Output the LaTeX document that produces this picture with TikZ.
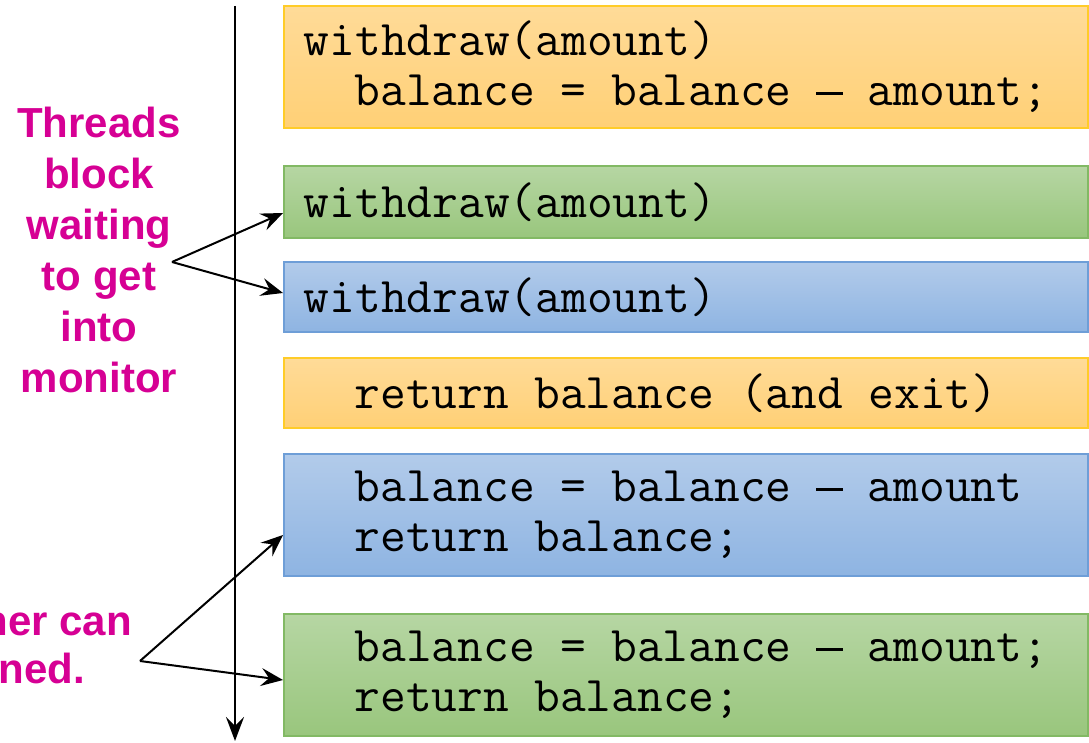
\documentclass[tikz,border=0pt]{standalone}
\usepackage{fontspec}
\setmainfont{Liberation Sans}
\usetikzlibrary{arrows.meta}
\definecolor{mag}{RGB}{214,0,148}
\definecolor{otop}{RGB}{255,219,152}
\definecolor{obot}{RGB}{255,208,118}
\definecolor{odraw}{RGB}{255,204,40}
\definecolor{gtop}{RGB}{182,214,163}
\definecolor{gbot}{RGB}{153,198,125}
\definecolor{gdraw}{RGB}{130,185,100}
\definecolor{btop}{RGB}{178,203,234}
\definecolor{bbot}{RGB}{142,180,226}
\definecolor{bdraw}{RGB}{110,158,215}
\newcommand\ssp{\hspace*{25.4pt}}
\newcommand\mydash{\makebox[25.4pt]{\rule[11pt]{27pt}{2.6pt}}}
\newcommand\codefont{\ttfamily\fontsize{50}{50}\selectfont}
\tikzset{
  codebox/.style={draw, line width=1.5pt, rectangle, anchor=west, inner xsep=20pt, inner ysep=0pt,
    text width=764pt, align=left, font=\codefont, shading=axis, shading angle=0},
  obox/.style={codebox, draw=odraw, top color=otop, bottom color=obot},
  gbox/.style={codebox, draw=gdraw, top color=gtop, bottom color=gbot},
  bbox/.style={codebox, draw=bdraw, top color=btop, bottom color=bbot},
  note/.style={text=mag, font=\bfseries\fontsize{42}{51}\selectfont, inner sep=0pt},
  arr/.style={line width=2pt, -{Stealth[length=22pt,width=18pt,inset=8pt]}},
}
\begin{document}
\begin{tikzpicture}[x=1pt,y=1pt]
\useasboundingbox (0,0) rectangle (1089,742);
\node[obox, minimum height=122pt] (b1) at (283,675) {withdraw(amount)\\\ssp\ssp balance\ssp=\ssp balance\ssp\mydash\ssp amount;};
\node[gbox, minimum height=72pt] (b2) at (283,540) {withdraw(amount)};
\node[bbox, minimum height=70pt] (b3) at (283,445) {withdraw(amount)};
\node[obox, minimum height=70pt] (b4) at (283,349) {\ssp\ssp return\ssp balance\ssp(and\ssp exit)};
\node[bbox, minimum height=122pt] (b5) at (283,227) {\ssp\ssp balance\ssp=\ssp balance\ssp\mydash\ssp amount\\\ssp\ssp return\ssp balance;};
\node[gbox, minimum height=122pt] (b6) at (283,67) {\ssp\ssp balance\ssp=\ssp balance\ssp\mydash\ssp amount;\\\ssp\ssp return\ssp balance;};
\coordinate (ltop) at (235,736);
\coordinate (lbot) at (235,1);
\draw[line width=2.5pt, -{Stealth[length=24pt,width=18pt,inset=9pt]}] (ltop) -- (lbot);
\node[note, align=center] (n1) at (99,492) {Threads\\block\\waiting\\to get\\into\\monitor};
\coordinate (s1) at (172,480);
\draw[arr] (s1) -- ([yshift=-11pt]b2.west);
\draw[arr] (s1) -- ([yshift=4pt]b3.west);
\node[note, anchor=east] (n2) at (132,122) {her can};
\node[note, anchor=east] (n3) at (85,74) {ned.};
\coordinate (s2) at (140,81);
\draw[arr] (s2) -- ([yshift=-20pt]b5.west);
\draw[arr] (s2) -- ([yshift=-5pt]b6.west);
\end{tikzpicture}
\end{document}
